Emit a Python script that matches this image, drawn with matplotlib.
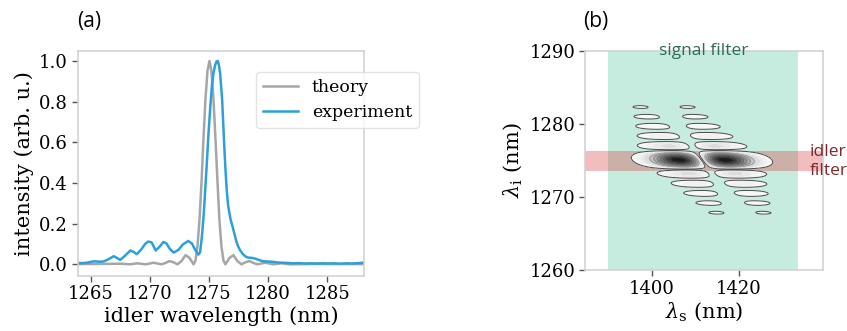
import numpy as np
import matplotlib
matplotlib.use("Agg")
import matplotlib.pyplot as plt

plt.rcParams['font.family'] = ['DejaVu Serif']
plt.rcParams['mathtext.fontset'] = 'dejavuserif'

# (a) idler spectrum, theory
theory_wl = [1263.9, 1266.0, 1267.62, 1268.29, 1268.97, 1269.64, 1270.32, 1270.99,
             1271.33, 1271.66, 1272.0, 1272.34, 1272.68, 1273.02, 1273.35, 1273.69,
             1273.86, 1274.03, 1274.2, 1274.37, 1274.53, 1274.7, 1274.87, 1275.04,
             1275.21, 1275.38, 1275.55, 1275.72, 1275.88, 1276.05, 1276.22, 1276.39,
             1276.73, 1277.07, 1277.4, 1277.74, 1278.08, 1278.42, 1278.75, 1279.09,
             1279.76, 1280.44, 1281.12, 1281.79, 1284.0, 1288.1]
theory_int = [0.001, 0.002, 0.003, 0.0, 0.005, 0.0, 0.008, 0.0,
              0.007, 0.016, 0.01, 0.0, 0.0165, 0.045, 0.032, 0.0,
              0.019, 0.09, 0.22, 0.405, 0.615, 0.81, 0.95, 1.0,
              0.95, 0.81, 0.615, 0.405, 0.22, 0.09, 0.019, 0.0,
              0.032, 0.045, 0.0165, 0.0, 0.01, 0.016, 0.007, 0.0,
              0.008, 0.0, 0.005, 0.0, 0.002, 0.001]

# (a) idler spectrum, experiment
exp_wl = [1263.9, 1264.3, 1264.7, 1265.0, 1265.3, 1265.7, 1266.1, 1266.5, 1266.95,
          1267.2, 1267.5, 1267.9, 1268.35, 1268.6, 1268.9, 1269.3, 1269.6, 1269.85,
          1270.15, 1270.5, 1270.8, 1271.15, 1271.4, 1271.7, 1272.0, 1272.4, 1272.8,
          1273.25, 1273.55, 1273.85, 1274.1, 1274.25, 1274.4, 1274.55, 1274.68,
          1274.82, 1274.96, 1275.1, 1275.24, 1275.38, 1275.52, 1275.65, 1275.75,
          1275.85, 1275.94, 1276.02, 1276.11, 1276.2, 1276.28, 1276.39, 1276.5,
          1276.62, 1276.73, 1276.85, 1277.0, 1277.15, 1277.29, 1277.45, 1277.63,
          1277.85, 1278.05, 1278.3, 1278.6, 1278.9, 1279.2, 1279.5, 1279.9, 1280.3,
          1280.7, 1281.1, 1281.6, 1282.1, 1282.6, 1283.1, 1283.6, 1284.1, 1284.6,
          1285.1, 1285.6, 1286.1, 1286.6, 1287.1, 1287.6, 1288.1]
exp_int = [0.007, 0.006, 0.008, 0.012, 0.015, 0.013, 0.014, 0.025, 0.040,
           0.032, 0.022, 0.042, 0.068, 0.062, 0.050, 0.075, 0.100, 0.112,
           0.108, 0.068, 0.085, 0.110, 0.103, 0.075, 0.058, 0.070, 0.098,
           0.115, 0.103, 0.070, 0.048, 0.060, 0.135, 0.24, 0.365,
           0.50, 0.644, 0.765, 0.873, 0.94, 0.98, 0.998, 1.0,
           0.975, 0.94, 0.88, 0.81, 0.70, 0.595, 0.47, 0.365,
           0.29, 0.25, 0.215, 0.184, 0.15, 0.118, 0.09, 0.069,
           0.052, 0.040, 0.033, 0.032, 0.028, 0.022, 0.016, 0.014, 0.013,
           0.010, 0.008, 0.007, 0.005, 0.006, 0.004, 0.005, 0.004, 0.005,
           0.004, 0.005, 0.003, 0.005, 0.004, 0.006, 0.008]

# (b) joint spectrum parameters (nm)
idler_center = 1275.1
idler_zero_spacing = 1.32
signal_node = 1411.5
signal_lobe_offset = 5.3
tilt = 1.2
contour_levels = [0.052, 0.1, 0.15, 0.2, 0.3, 0.4, 0.5, 0.6, 0.7, 0.8, 0.9, 1.0]
line_levels = [0.052, 0.3, 0.4, 0.5, 0.6, 0.7, 0.8, 0.9]
line_colors = ['#4a4a4a', '#9a9a9a', '#8a8a8a', '#7a7a7a', '#6a6a6a', '#5a5a5a', '#4a4a4a', '#3a3a3a']

signal_filter = (1390.0, 1433.6)
idler_filter = (1273.6, 1276.3)

fig = plt.figure(figsize=(8.47, 3.31), dpi=100)
ax1 = fig.add_axes([0.0917, 0.167, 0.338, 0.679])
ax2 = fig.add_axes([0.6907, 0.184, 0.2813, 0.6616])

gray = '#a6a6a6'
blue = '#2ba0da'

ax1.plot(theory_wl, theory_int, color=gray, lw=1.8, label='theory')
ax1.plot(exp_wl, exp_int, color=blue, lw=1.8, label='experiment')
ax1.set_xlim(1263.9, 1288.1)
ax1.set_ylim(-0.056, 1.049)
ax1.set_xticks([1265, 1270, 1275, 1280, 1285])
ax1.set_yticks([0.0, 0.2, 0.4, 0.6, 0.8, 1.0])
ax1.set_xlabel('idler wavelength (nm)', fontsize=15, labelpad=2)
ax1.set_ylabel('intensity (arb. u.)', fontsize=15, labelpad=4)
ax1.legend(loc='upper right', bbox_to_anchor=(1.192, 0.908), borderaxespad=0,
           fontsize=12.5, framealpha=0.8, edgecolor='#dddddd', handlelength=2.0)

# joint spectral amplitude
s = np.linspace(1384, 1440, 700)
i = np.linspace(1259, 1291, 500)
S, I = np.meshgrid(s, i)
u = (S - signal_node) + tilt * (I - idler_center)
hg = (u / signal_lobe_offset) * np.exp(0.5 - u**2 / (2 * signal_lobe_offset**2))
jsa = np.abs(np.sinc((I - idler_center) / idler_zero_spacing) * hg)

ax2.axvspan(*signal_filter, color='#66cdaa', alpha=0.37, lw=0, zorder=0)
ax2.axhspan(*idler_filter, color='#d62728', alpha=0.3, lw=0, zorder=1)
ax2.contourf(S, I, jsa, levels=contour_levels, cmap='Greys', vmin=0, vmax=1.05, zorder=2)
ax2.contour(S, I, jsa, levels=line_levels, colors=line_colors, linewidths=0.7, zorder=3)
ax2.set_xlim(1384.7, 1439.3)
ax2.set_ylim(1260, 1290)
ax2.set_xticks([1400, 1420])
ax2.set_yticks([1260, 1270, 1280, 1290])
ax2.set_xlabel(r'$\lambda_\mathrm{s}$ (nm)', fontsize=15, labelpad=2)
ax2.set_ylabel(r'$\lambda_\mathrm{i}$ (nm)', fontsize=15, labelpad=4)
ax2.text(1411.8, 1290, 'signal filter', ha='center', va='center', fontsize=12.5,
         family='Open Sans', color='#2d6b57', zorder=5)
ax2.text(1436.2, 1274.9, 'idler\nfilter', ha='left', va='center', fontsize=12.5,
         family='Open Sans', color='#7a2a2a', linespacing=1.3, zorder=5, clip_on=False)

for ax in (ax1, ax2):
    for sp in ax.spines.values():
        sp.set_color('#d0d0d0')
        sp.set_linewidth(1.1)
    ax.tick_params(direction='out', length=4, width=1, color='#555555',
                   labelsize=13, pad=3)

fig.text(77 / 847, 1 - 22 / 331, '(a)', family='Open Sans', fontsize=15, va='center')
fig.text(583 / 847, 1 - 22 / 331, '(b)', family='Open Sans', fontsize=15, va='center')

fig.savefig('out.png', dpi=100)
